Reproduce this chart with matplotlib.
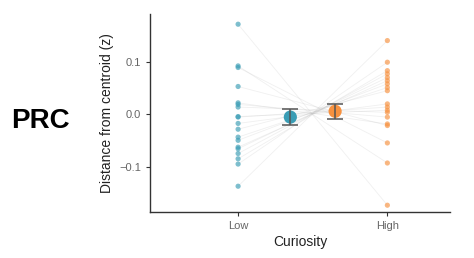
import matplotlib as mpl
mpl.use('Agg')
import matplotlib.pyplot as plt
import numpy as np

mpl.rcParams.update({
    'font.family': ['Liberation Sans', 'DejaVu Sans'],
    'axes.spines.right': False,
    'axes.spines.top': False,
})

# per-subject values (same subject order in both lists)
conditions = ['Low', 'High']
low_vals = [0.171, 0.092, 0.089, 0.053, 0.022, 0.019, 0.014, -0.004, -0.005,
            -0.017, -0.028, -0.043, -0.049, -0.062, -0.065, -0.074, -0.084, -0.094, -0.136]
high_vals = [-0.172, -0.092, -0.054, -0.021, -0.018, -0.005, 0.004, 0.008, 0.014,
             0.020, 0.045, 0.051, 0.058, 0.064, 0.070, 0.077, 0.083, 0.099, 0.140]
# group means and standard errors
mean_vals = [-0.005, 0.006]
se_vals = [0.0145, 0.014]

TEAL = '#3A9DB5'
ORANGE = '#F7913F'

fig = plt.figure(figsize=(4.74, 2.58), dpi=100)
ax = fig.add_axes([0.3165, 0.178, 0.633, 0.767])

x_pos = [1, 2]
mean_pos = [1.35, 1.65]

# subject lines
for lo, hi in zip(low_vals, high_vals):
    ax.plot(x_pos, [lo, hi], color='#BBBBBB', lw=0.6, alpha=0.22, zorder=1)

ax.scatter([x_pos[0]] * len(low_vals), low_vals, s=14, color=TEAL, alpha=0.65,
           edgecolors='none', zorder=2)
ax.scatter([x_pos[1]] * len(high_vals), high_vals, s=14, color=ORANGE, alpha=0.65,
           edgecolors='none', zorder=2)

# means +/- SE
for xm, m, se, c in zip(mean_pos, mean_vals, se_vals, [TEAL, ORANGE]):
    ax.scatter([xm], [m], s=90, color=c, edgecolors='none', zorder=3)
    ax.errorbar([xm], [m], yerr=[se], color='#555555', lw=1.1, capsize=6,
                capthick=1.1, zorder=4)

ax.set_xlim(0.41, 2.42)
ax.set_ylim(-0.185, 0.19)
ax.set_xticks(x_pos)
ax.set_xticklabels(conditions)
ax.set_yticks([-0.1, 0.0, 0.1])
ax.set_yticklabels(['\u22120.1', '0.0', '0.1'])
ax.tick_params(colors='#333333', labelcolor='#666666', labelsize=8, length=3, width=0.8)
for s in ['left', 'bottom']:
    ax.spines[s].set_color('#333333')
    ax.spines[s].set_linewidth(1.0)

ax.set_xlabel('Curiosity', fontsize=10, color='#222222', labelpad=3)
ax.set_ylabel('Distance from centroid (z)', fontsize=10, color='#222222', labelpad=4)

fig.text(40 / 474, 1 - 121 / 258, 'PRC', fontsize=20, fontweight='bold',
         ha='center', va='center')

fig.savefig('out.png', dpi=100)
